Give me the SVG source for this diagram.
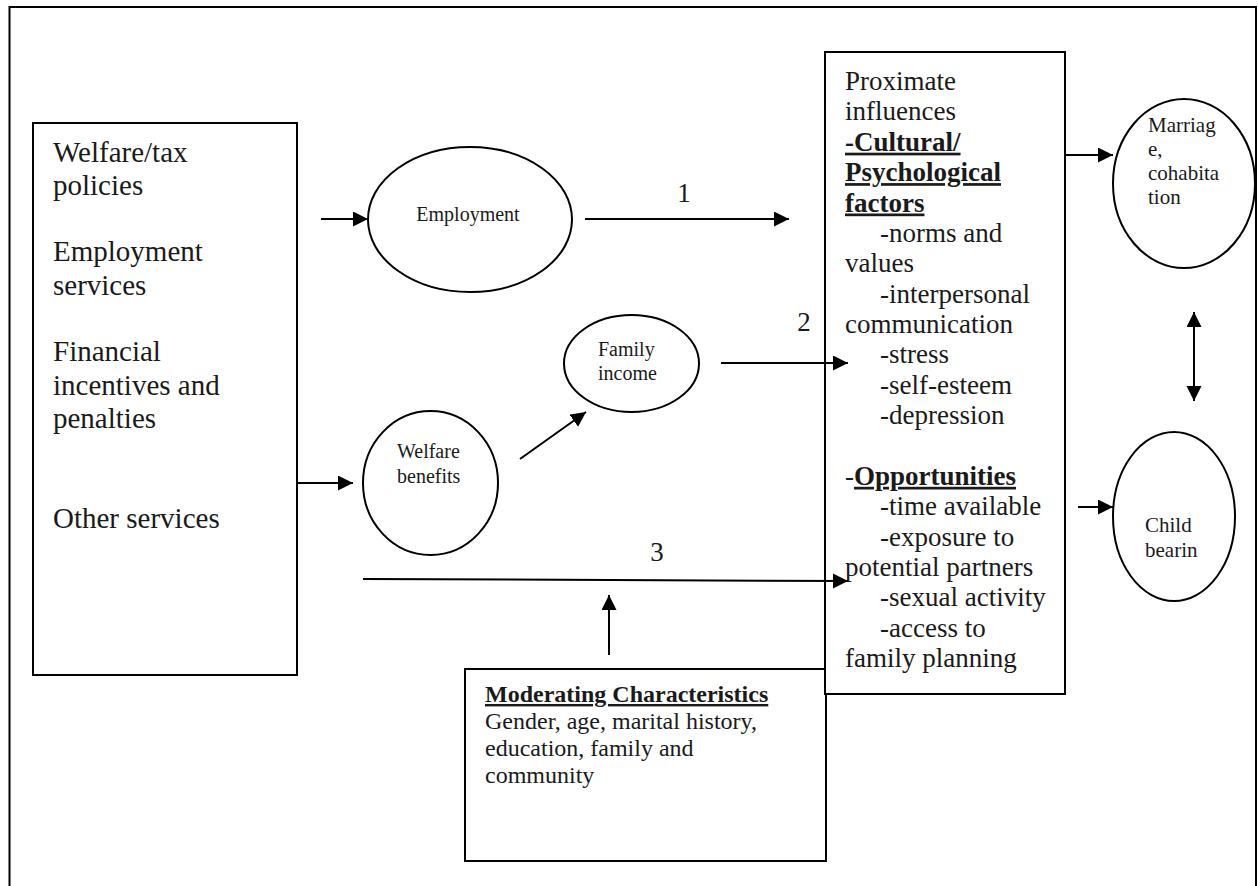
<svg xmlns="http://www.w3.org/2000/svg" width="1258" height="886" viewBox="0 0 1258 886">
<style>
  .box { fill: #fff; stroke: #000; stroke-width: 2; }
  .ell { fill: #fff; stroke: #000; stroke-width: 2; }
  .ln { fill: none; stroke: #000; stroke-width: 2; }
  .t { font-family: "Liberation Serif", "Times New Roman", serif; fill: #1a1a1a; }
  .big { font-size: 29px; }
  .mid { font-size: 27px; }
  .mod { font-size: 24px; }
  .sm { font-size: 20px; }
  .out { font-size: 21px; }
  .b { font-weight: bold; }
  .u { text-decoration: underline; }
</style>
<defs>
  <marker id="ah" markerUnits="userSpaceOnUse" markerWidth="16" markerHeight="16" refX="15" refY="7.5" orient="auto-start-reverse">
    <path d="M0,0 L15,7.5 L0,15 Z" fill="#000"/>
  </marker>
</defs>
<rect width="1258" height="886" fill="#fff"/>
<rect id="frame" x="9.5" y="7" width="1246.5" height="900" fill="none" stroke="#000" stroke-width="2"/>

<g id="policies">
  <rect class="box" x="33" y="123" width="264" height="552"/>
  <text class="t big" x="53" y="162">Welfare/tax</text>
  <text class="t big" x="53" y="195">policies</text>
  <text class="t big" x="53" y="261">Employment</text>
  <text class="t big" x="53" y="295">services</text>
  <text class="t big" x="53" y="361">Financial</text>
  <text class="t big" x="53" y="395">incentives and</text>
  <text class="t big" x="53" y="428">penalties</text>
  <text class="t big" x="53" y="528">Other services</text>
</g>

<g id="employment">
  <ellipse class="ell" cx="470" cy="219.5" rx="102" ry="72.5"/>
  <text class="t sm" x="468" y="221" text-anchor="middle">Employment</text>
</g>

<g id="family-income">
  <ellipse class="ell" cx="631.5" cy="363.5" rx="67.5" ry="48.5"/>
  <text class="t sm" x="598" y="356">Family</text>
  <text class="t sm" x="598" y="380">income</text>
</g>

<g id="welfare-benefits">
  <ellipse class="ell" cx="430.5" cy="483" rx="67.5" ry="72"/>
  <text class="t sm" x="397" y="458">Welfare</text>
  <text class="t sm" x="397" y="483">benefits</text>
</g>

<g id="moderating">
  <rect class="box" x="465" y="669" width="361" height="192"/>
  <text class="t mod b u" x="485" y="702">Moderating Characteristics</text>
  <text class="t mod" x="485" y="729">Gender, age, marital history,</text>
  <text class="t mod" x="485" y="756">education, family and</text>
  <text class="t mod" x="485" y="783">community</text>
</g>

<g id="proximate">
  <rect class="box" x="825" y="52" width="240" height="642"/>
  <text class="t mid" x="845" y="90">Proximate</text>
  <text class="t mid" x="845" y="120.4">influences</text>
  <text class="t mid b u" x="845" y="150.7">-Cultural/</text>
  <text class="t mid b u" x="845" y="181.1">Psychological</text>
  <text class="t mid b u" x="845" y="211.5">factors</text>
  <text class="t mid" x="880" y="241.9">-norms and</text>
  <text class="t mid" x="845" y="272.2">values</text>
  <text class="t mid" x="880" y="302.6">-interpersonal</text>
  <text class="t mid" x="845" y="333">communication</text>
  <text class="t mid" x="880" y="363.3">-stress</text>
  <text class="t mid" x="880" y="393.7">-self-esteem</text>
  <text class="t mid" x="880" y="424.1">-depression</text>
  <text class="t mid" x="845" y="484.8">-<tspan class="b u">Opportunities</tspan></text>
  <text class="t mid" x="880" y="515.2">-time available</text>
  <text class="t mid" x="880" y="545.6">-exposure to</text>
  <text class="t mid" x="845" y="575.9">potential partners</text>
  <text class="t mid" x="880" y="606.3">-sexual activity</text>
  <text class="t mid" x="880" y="636.7">-access to</text>
  <text class="t mid" x="845" y="667">family planning</text>
</g>

<g id="marriage">
  <ellipse class="ell" cx="1184" cy="183.5" rx="71" ry="84.5"/>
  <text class="t out" x="1148" y="132">Marriag</text>
  <text class="t out" x="1148" y="156">e,</text>
  <text class="t out" x="1148" y="180">cohabita</text>
  <text class="t out" x="1148" y="204">tion</text>
</g>

<g id="childbearing">
  <ellipse class="ell" cx="1174" cy="516.5" rx="61" ry="84.5"/>
  <text class="t out" x="1145" y="532">Child</text>
  <text class="t out" x="1145" y="557">bearin</text>
</g>

<g id="connectors">
  <line class="ln" x1="321" y1="219" x2="368" y2="219" marker-end="url(#ah)"/>
  <line class="ln" x1="585" y1="219" x2="789" y2="219" marker-end="url(#ah)"/>
  <line class="ln" x1="296" y1="483" x2="353" y2="483" marker-end="url(#ah)"/>
  <line class="ln" x1="520" y1="459" x2="586" y2="412" marker-end="url(#ah)"/>
  <line class="ln" x1="721" y1="363" x2="848" y2="363" marker-end="url(#ah)"/>
  <line class="ln" x1="363" y1="579" x2="848" y2="581" marker-end="url(#ah)"/>
  <line class="ln" x1="609" y1="655" x2="609" y2="595" marker-end="url(#ah)"/>
  <line class="ln" x1="1066" y1="155" x2="1113" y2="155" marker-end="url(#ah)"/>
  <line class="ln" x1="1078" y1="507" x2="1113" y2="507" marker-end="url(#ah)"/>
  <line class="ln" x1="1194" y1="312" x2="1194" y2="401" marker-start="url(#ah)" marker-end="url(#ah)"/>
  <text class="t mid" x="684" y="202" text-anchor="middle">1</text>
  <text class="t mid" x="804" y="331" text-anchor="middle">2</text>
  <text class="t mid" x="657" y="561" text-anchor="middle">3</text>
</g>
</svg>
